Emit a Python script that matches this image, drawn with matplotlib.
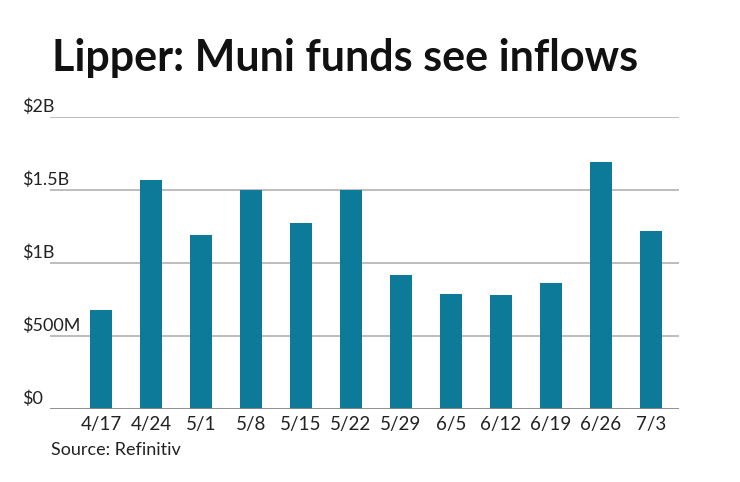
import matplotlib
matplotlib.use('Agg')
import matplotlib.pyplot as plt

weeks = ['4/17', '4/24', '5/1', '5/8', '5/15', '5/22', '5/29', '6/5', '6/12', '6/19', '6/26', '7/3']
inflows = [0.68, 1.57, 1.19, 1.50, 1.27, 1.50, 0.92, 0.79, 0.78, 0.86, 1.69, 1.22]  # $ billions
ytick_vals = [0, 0.5, 1, 1.5, 2]
ytick_labels = ['$0', '$500M', '$1B', '$1.5B', '$2B']

plt.rcParams['font.family'] = ['Lato', 'DejaVu Sans']

fig = plt.figure(figsize=(7.4, 4.82), dpi=100)
# axes box: x 50..679 px, y 116.7..409.3 px
ax = fig.add_axes([50/740, 1-409.3/482, 629/740, 292.6/482])

x = range(len(weeks))
ax.bar(x, inflows, width=0.44, color='#0e7a99', zorder=3)

for v in ytick_vals[1:]:
    ax.axhline(v, color='#b8b8b8', lw=1.3, zorder=1)
ax.axhline(0, color='#888888', lw=1.3, zorder=4)

ax.set_xlim(-1.02, 11.56)
ax.set_ylim(0, 2)
for s in ax.spines.values():
    s.set_visible(False)
ax.set_yticks([])
ax.set_xticks(list(x))
ax.set_xticklabels(weeks, fontsize=13.5, color='#222222')
ax.tick_params(axis='x', length=0, pad=5)

# y labels sit just above their gridlines, left aligned
for v, lab in zip(ytick_vals, ytick_labels):
    ypix = 409.3 - v * 146.3
    fig.text(22/740, 1 - (ypix - 2)/482, lab, fontsize=13, color='#222222', va='bottom', ha='left')

fig.text(52/740, 1 - 58/482, 'Lipper: Muni funds see inflows', fontsize=31,
         fontweight='bold', color='#111111', va='center', ha='left')
fig.text(51/740, 1 - 450/482, 'Source: Refinitiv', fontsize=13, color='#222222',
         va='center', ha='left')

fig.savefig('out.png', dpi=100)
